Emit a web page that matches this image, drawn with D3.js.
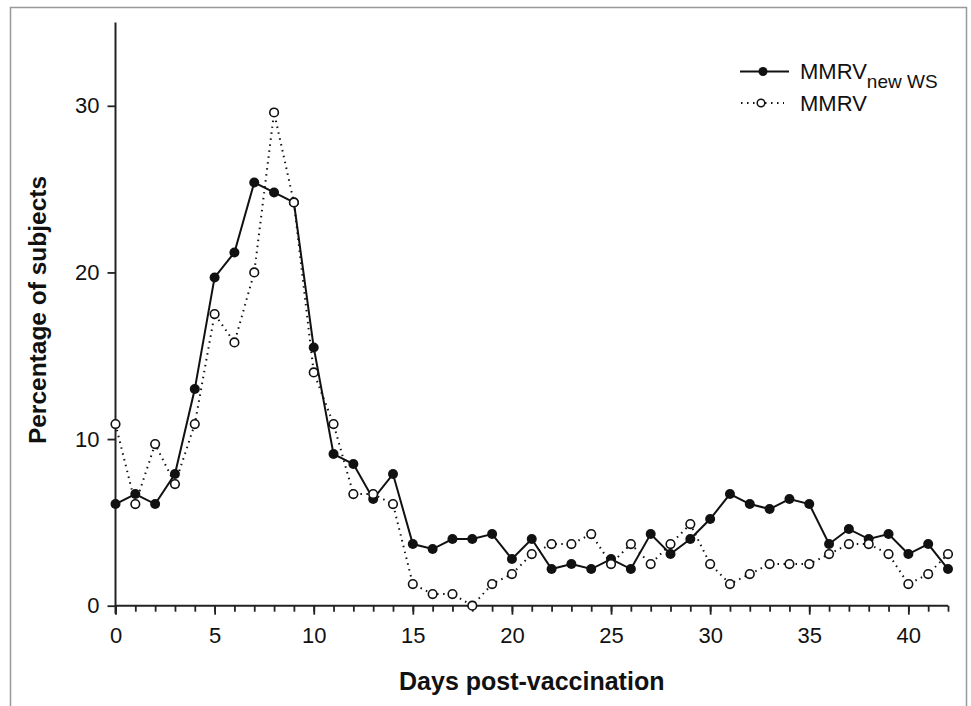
<!DOCTYPE html>
<html>
<head>
<meta charset="utf-8">
<script src="https://cdn.jsdelivr.net/npm/d3@7"></script>
<style>
  body { margin: 0; background: #fff; }
  text { font-family: "Liberation Sans", Arial, sans-serif; }
</style>
</head>
<body>
<svg id="chart" width="971" height="706"></svg>
<script>
// days 0..42
var days = d3.range(0, 43);

// MMRV new WS (filled circles, solid line)
var mmrvNewWS = [6.1, 6.7, 6.1, 7.9, 13.0, 19.7, 21.2, 25.4, 24.8, 24.2,
                 15.5, 9.1, 8.5, 6.4, 7.9, 3.7, 3.4, 4.0, 4.0, 4.3,
                 2.8, 4.0, 2.2, 2.5, 2.2, 2.8, 2.2, 4.3, 3.1, 4.0,
                 5.2, 6.7, 6.1, 5.8, 6.4, 6.1, 3.7, 4.6, 4.0, 4.3,
                 3.1, 3.7, 2.2];

// MMRV (open circles, dotted line)
var mmrv = [10.9, 6.1, 9.7, 7.3, 10.9, 17.5, 15.8, 20.0, 29.6, 24.2,
            14.0, 10.9, 6.7, 6.7, 6.1, 1.3, 0.7, 0.7, 0.0, 1.3,
            1.9, 3.1, 3.7, 3.7, 4.3, 2.5, 3.7, 2.5, 3.7, 4.9,
            2.5, 1.3, 1.9, 2.5, 2.5, 2.5, 3.1, 3.7, 3.7, 3.1,
            1.3, 1.9, 3.1];

var yTicks = [0, 10, 20, 30];
var xMajor = [0, 5, 10, 15, 20, 25, 30, 35, 40];

var svg = d3.select("#chart");

// outer frame
svg.append("path")
    .attr("d", "M10.5,706 V7.5 H966.5 V706")
    .attr("fill", "none")
    .attr("stroke", "#999")
    .attr("stroke-width", 1.5);

var x = d3.scaleLinear().domain([0, 42]).range([115.5, 948]);
var y = d3.scaleLinear().domain([0, 35]).range([605.7, 22.5]);

//#region axes
var xAxisMinor = d3.axisBottom(x)
    .tickValues(days)
    .tickSize(6)
    .tickFormat("");
var gxm = svg.append("g")
    .attr("transform", "translate(0," + y(0) + ")")
    .call(xAxisMinor);

var xAxis = d3.axisBottom(x)
    .tickValues(xMajor)
    .tickSize(9)
    .tickPadding(13)
    .tickFormat(d3.format("d"));
var gx = svg.append("g")
    .attr("transform", "translate(0," + y(0) + ")")
    .call(xAxis);

var yAxis = d3.axisLeft(y)
    .tickValues(yTicks)
    .tickSize(8)
    .tickPadding(8)
    .tickFormat(d3.format("d"));
var gy = svg.append("g")
    .attr("transform", "translate(" + x(0) + ",0)")
    .call(yAxis);

[gx, gxm, gy].forEach(function(g){
    g.select(".domain").attr("stroke", "#222").attr("stroke-width", 2);
    g.selectAll(".tick line").attr("stroke", "#222").attr("stroke-width", 1.8);
    g.selectAll("text")
        .attr("font-family", "'Liberation Sans', Arial, sans-serif")
        .attr("font-size", 22)
        .attr("fill", "#111");
});
gxm.select(".domain").attr("d", "M" + x(0) + ",0 H" + x(42));
gx.select(".domain").remove();
gy.select(".domain").attr("d", "M0," + (y(0) + 8) + " V" + y(35));

svg.append("text")
    .attr("x", (x(0) + x(42)) / 2)
    .attr("y", 690)
    .attr("text-anchor", "middle")
    .attr("font-size", 25)
    .attr("font-weight", "bold")
    .attr("fill", "#111")
    .text("Days post-vaccination");

svg.append("text")
    .attr("transform", "translate(46,310) rotate(-90)")
    .attr("text-anchor", "middle")
    .attr("font-size", 24.5)
    .attr("font-weight", "bold")
    .attr("fill", "#111")
    .text("Percentage of subjects");
//#endregion

//#region series
var lineGen = d3.line()
    .x(function(d, i){ return x(days[i]); })
    .y(function(d){ return y(d); });

svg.append("path")
    .datum(mmrv)
    .attr("d", lineGen)
    .attr("fill", "none")
    .attr("stroke", "#111")
    .attr("stroke-width", 2)
    .attr("stroke-dasharray", "1.5,4.5");

svg.append("path")
    .datum(mmrvNewWS)
    .attr("d", lineGen)
    .attr("fill", "none")
    .attr("stroke", "#111")
    .attr("stroke-width", 2);

svg.selectAll("circle.filled")
    .data(mmrvNewWS)
    .join("circle")
    .attr("class", "filled")
    .attr("cx", function(d, i){ return x(days[i]); })
    .attr("cy", function(d){ return y(d); })
    .attr("r", 5)
    .attr("fill", "#111");

svg.selectAll("circle.open")
    .data(mmrv)
    .join("circle")
    .attr("class", "open")
    .attr("cx", function(d, i){ return x(days[i]); })
    .attr("cy", function(d){ return y(d); })
    .attr("r", 4.3)
    .attr("fill", "#fff")
    .attr("stroke", "#111")
    .attr("stroke-width", 1.6);
//#endregion

//#region legend
var leg = svg.append("g");
leg.append("line")
    .attr("x1", 740).attr("x2", 789).attr("y1", 71.5).attr("y2", 71.5)
    .attr("stroke", "#111").attr("stroke-width", 2);
leg.append("circle")
    .attr("cx", 763).attr("cy", 71.5).attr("r", 4.5).attr("fill", "#111");
var t1 = leg.append("text")
    .attr("x", 800).attr("y", 79)
    .attr("font-size", 22).attr("fill", "#111");
t1.append("tspan").text("MMRV");
t1.append("tspan").attr("dy", 9).attr("font-size", 19).text("new WS");

leg.append("line")
    .attr("x1", 741).attr("x2", 784).attr("y1", 103).attr("y2", 103)
    .attr("stroke", "#111").attr("stroke-width", 2)
    .attr("stroke-dasharray", "1.5,4.5");
leg.append("circle")
    .attr("cx", 761).attr("cy", 103).attr("r", 3.8)
    .attr("fill", "#fff").attr("stroke", "#111").attr("stroke-width", 1.5);
leg.append("text")
    .attr("x", 800).attr("y", 111)
    .attr("font-size", 22).attr("fill", "#111")
    .text("MMRV");
//#endregion
</script>
</body>
</html>
